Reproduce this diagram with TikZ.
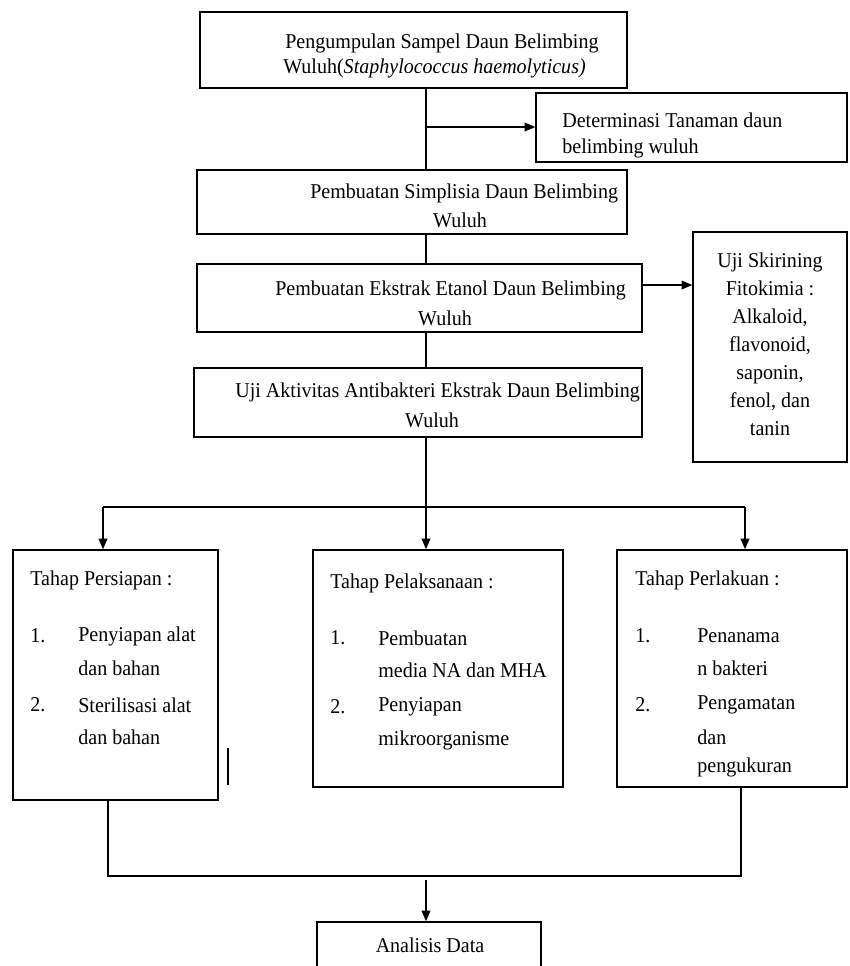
\documentclass[tikz,border=0pt]{standalone}
\usepackage{fontspec}
\setmainfont{Liberation Serif}[FakeStretch=0.95]
\usetikzlibrary{fit}
\usetikzlibrary{arrows.meta}

\begin{document}
\begin{tikzpicture}[x=.02cm,y=-.02cm,>={Triangle[length=6pt,width=5pt]},
  kotak/.style={draw,line width=.9pt,inner sep=0pt},
  teks/.style={inner sep=0pt,anchor=west,font=\fontsize{12}{14}\selectfont},
  garis/.style={line width=.6pt}]
\useasboundingbox (0,0) rectangle (849,966);
\clip (0,0) rectangle (849,966);

\node[kotak,fit={(200,12) (627,88)}] (pengumpulan) {};
\node[teks] at (285,43) {Pengumpulan Sampel Daun Belimbing};
\node[teks] at (283,68) {Wuluh(\textit{Staphylococcus haemolyticus)}};

\node[kotak,fit={(536,93) (847,162)}] (determinasi) {};
\node[teks] at (562,120) {Determinasi Tanaman daun};
\node[teks] at (562,148) {belimbing wuluh};

\node[kotak,fit={(197,170) (627,234)}] (simplisia) {};
\node[teks] at (310,193) {Pembuatan Simplisia Daun Belimbing};
\node[teks,anchor=center] at (460,220) {Wuluh};

\node[kotak,fit={(197,264) (642,332)}] (ekstrak) {};
\node[teks] at (275,290) {Pembuatan Ekstrak Etanol Daun Belimbing};
\node[teks,anchor=center] at (445,318) {Wuluh};

\node[kotak,fit={(693,232) (847,462)}] (skrining) {};
\node[teks,anchor=center,align=center,font=\fontsize{12}{15.9}\selectfont] at (770,344)
  {Uji Skirining\\Fitokimia :\\Alkaloid,\\flavonoid,\\saponin,\\fenol, dan\\tanin};

\node[kotak,fit={(194,368) (642,437)}] (uji) {};
\node[teks] at (235,392) {Uji Aktivitas Antibakteri Ekstrak Daun Belimbing};
\node[teks,anchor=center] at (432,420) {Wuluh};

\node[kotak,fit={(13,550) (218,800)}] (persiapan) {};
\node[teks] at (30,580) {Tahap Persiapan :};
\node[teks] at (30,636) {1.};
\node[teks] at (30,705) {2.};
\foreach \t/\y in {Penyiapan alat/636,dan bahan/668,Sterilisasi alat/705,dan bahan/737}
  \node[teks] at (78,\y) {\t};

\node[kotak,fit={(313,550) (563,787)}] (pelaksanaan) {};
\node[teks] at (330,583) {Tahap Pelaksanaan :};
\node[teks] at (330,638) {1.};
\node[teks] at (330,707) {2.};
\foreach \t/\y in {Pembuatan/638,media NA dan MHA/670,Penyiapan/707,mikroorganisme/740}
  \node[teks] at (378,\y) {\t};

\node[kotak,fit={(617,550) (847,787)}] (perlakuan) {};
\node[teks] at (635,580) {Tahap Perlakuan :};
\node[teks] at (635,636) {1.};
\node[teks] at (635,705) {2.};
\foreach \t/\y in {Penanama/636,n bakteri/668,Pengamatan/705,dan/737,pengukuran/767}
  \node[teks] at (697,\y) {\t};

\node[kotak,fit={(317,922) (541,980)}] (analisis) {};
\node[teks,anchor=center] at (430,945) {Analisis Data};

\coordinate (spine) at (426,0);
\coordinate (cabang) at (426,127);
\coordinate (skr) at (0,285);
\coordinate (bus) at (426,507);
\coordinate (busL) at (103,507);
\coordinate (busR) at (745,507);
\coordinate (kiri) at (108,876);
\coordinate (kanan) at (741,876);
\coordinate (tengah) at (426,876);

\draw[garis] (pengumpulan.south -| spine) -- (simplisia.north -| spine);
\draw[garis,->] (cabang) -- (cabang -| determinasi.west);
\draw[garis] (simplisia.south -| spine) -- (ekstrak.north -| spine);
\draw[garis] (ekstrak.south -| spine) -- (uji.north -| spine);
\draw[garis,->] (ekstrak.east |- skr) -- (skrining.west |- skr);
\draw[garis] (uji.south -| spine) -- (bus);
\draw[line width=.9pt] (busL) -- (busR);
\foreach \k/\b in {busL/persiapan,bus/pelaksanaan,busR/perlakuan}
  \draw[garis,->] (\k) -- (\b.north -| \k);
\draw[line width=.9pt] (persiapan.south -| kiri) -- (kiri) -- (kanan) -- (perlakuan.south -| kanan);
\draw[garis,->] ([yshift=-2pt]tengah) -- (analisis.north -| tengah);
\draw[garis] (228,748) -- (228,785);

\end{tikzpicture}
\end{document}
